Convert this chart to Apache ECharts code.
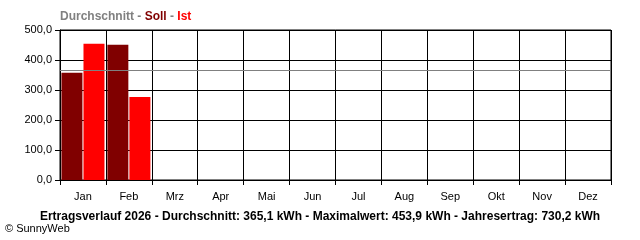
<!DOCTYPE html>
<html>
<head>
<meta charset="utf-8">
<script src="https://cdn.jsdelivr.net/npm/echarts@6/dist/echarts.min.js"></script>
<style>html,body{margin:0;padding:0;background:#fff;}#c{width:640px;height:240px;}</style>
</head>
<body>
<div id="c"></div>
<script>
const categories = ['Jan','Feb','Mrz','Apr','Mai','Jun','Jul','Aug','Sep','Okt','Nov','Dez'];
const sollValues = [357.5, 451.0, null, null, null, null, null, null, null, null, null, null];
const istValues = [453.9, 276.3, null, null, null, null, null, null, null, null, null, null];
const average = 365.1;
const yTicks = [0, 100, 200, 300, 400, 500];
const footerText = 'Ertragsverlauf 2026 - Durchschnitt: 365,1 kWh - Maximalwert: 453,9 kWh - Jahresertrag: 730,2 kWh';
const copyright = '© SunnyWeb';

const FONT = 'Liberation Sans, Arial, sans-serif';
const chart = echarts.init(document.getElementById('c'), null, {renderer: 'canvas'});
chart.setOption({
  animation: false,
  backgroundColor: '#ffffff',
  title: [
    {
      text: '{a|Durchschnitt} {b|-} {s|Soll} {b|-} {i|Ist}',
      left: 60, top: 11, padding: 0,
      textStyle: {
        fontFamily: FONT, fontSize: 12, fontWeight: 'bold',
        rich: {
          a: {color: '#808080', fontFamily: FONT, fontSize: 12, fontWeight: 'bold'},
          b: {color: '#808080', fontFamily: FONT, fontSize: 12, fontWeight: 'bold'},
          s: {color: '#800000', fontFamily: FONT, fontSize: 12, fontWeight: 'bold'},
          i: {color: '#ff0000', fontFamily: FONT, fontSize: 12, fontWeight: 'bold'}
        }
      }
    },
    {
      text: footerText,
      left: 320, textAlign: 'center', top: 211, padding: 0,
      textStyle: {fontFamily: FONT, fontSize: 12, fontWeight: 'bold', color: '#000'}
    },
    {
      text: copyright,
      left: 5, top: 223, padding: 0,
      textStyle: {fontFamily: FONT, fontSize: 11, fontWeight: 'normal', color: '#000'}
    }
  ],
  grid: {left: 60, right: 29, top: 30, bottom: 60, show: true, borderColor: '#000', borderWidth: 1},
  xAxis: {
    type: 'category',
    data: categories,
    boundaryGap: true,
    axisLine: {show: true, lineStyle: {color: '#000', width: 1}},
    axisTick: {show: true, length: 5, lineStyle: {color: '#000'}, alignWithLabel: false},
    axisLabel: {color: '#000', fontFamily: FONT, fontSize: 11, margin: 11},
    splitLine: {show: true, lineStyle: {color: '#000', width: 1}}
  },
  yAxis: {
    type: 'value',
    min: yTicks[0], max: yTicks[yTicks.length - 1], interval: 100,
    axisLine: {show: true, lineStyle: {color: '#000'}},
    axisTick: {show: true, length: 5, lineStyle: {color: '#000'}},
    axisLabel: {color: '#000', fontFamily: FONT, fontSize: 11, margin: 8,
      formatter: v => v.toFixed(1).replace('.', ',')},
    splitLine: {show: true, lineStyle: {color: '#000', width: 1}}
  },
  series: [
    {
      name: 'Soll', type: 'bar', data: sollValues,
      barWidth: 21, barGap: '5%',
      itemStyle: {color: '#800000'}
    },
    {
      name: 'Ist', type: 'bar', data: istValues,
      barWidth: 21,
      itemStyle: {color: '#ff0000'},
      markLine: {
        silent: true, symbol: 'none', label: {show: false},
        lineStyle: {color: '#808080', width: 1, type: 'solid'},
        data: [{yAxis: average}]
      }
    }
  ]
});
</script>
</body>
</html>
